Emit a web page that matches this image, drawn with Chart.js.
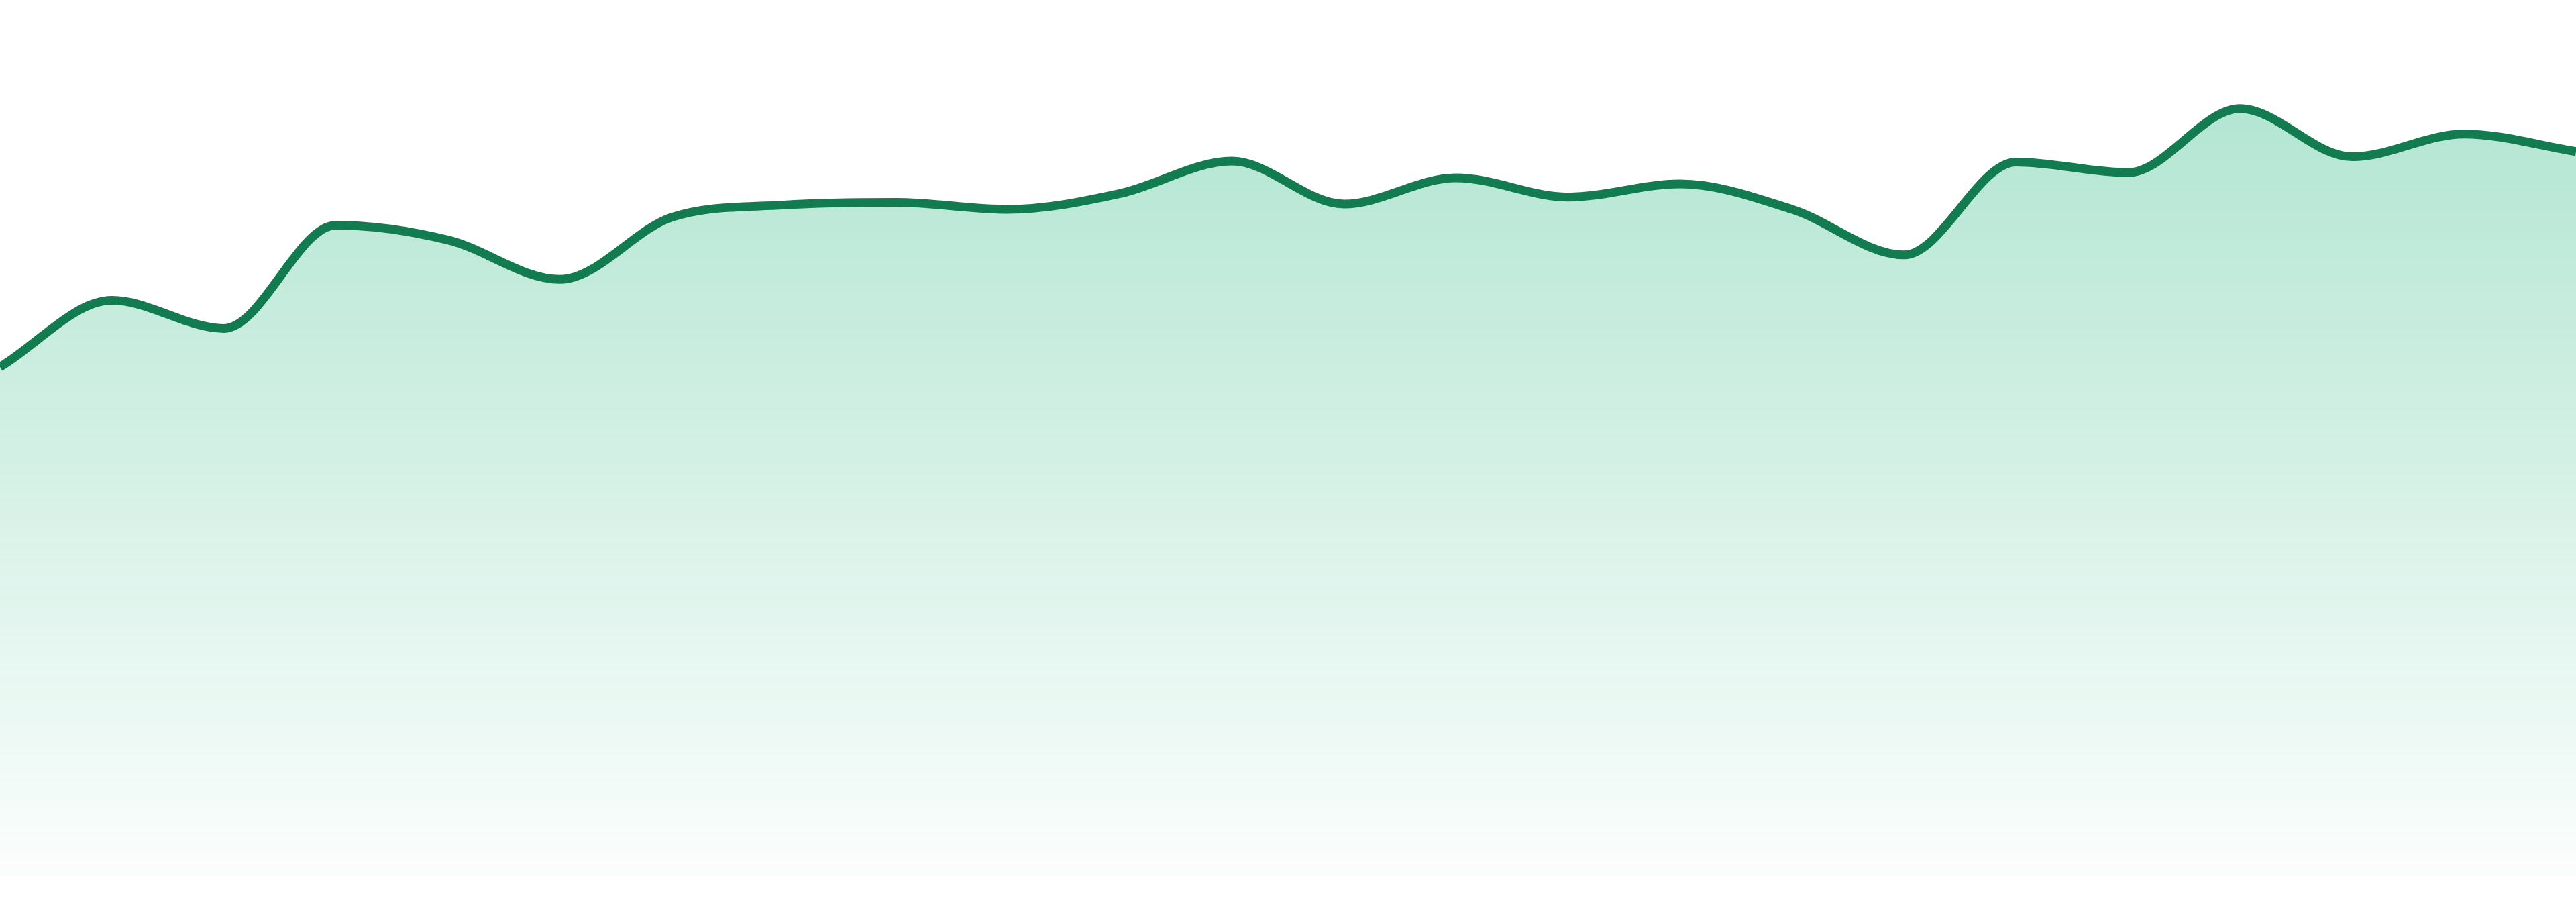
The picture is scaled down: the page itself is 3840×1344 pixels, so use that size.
<!DOCTYPE html>
<html>
<head>
<meta charset="utf-8">
<title>Area trend</title>
<script src="https://cdn.jsdelivr.net/npm/chart.js@4/dist/chart.umd.min.js"></script>
<style>
    html, body { margin: 0; padding: 0; background: #ffffff; }
    #wrap { width: 3840px; height: 1344px; position: relative; }
</style>
</head>
<body>
<div id="wrap"><canvas id="trendChart"></canvas></div>
<script>
// one value per step (0 = bottom of the fill, 100 = top edge)
const labels = ['1', '2', '3', '4', '5', '6', '7', '8', '9', '10', '11', '12',
    '13', '14', '15', '16', '17', '18', '19', '20', '21', '22', '23', '24'];
const values = [58.1, 65.7, 62.5, 74.3, 72.6, 68.1, 75.2, 76.6, 76.9, 76.1, 77.9, 81.6,
    76.7, 79.7, 77.5, 79.0, 76.1, 70.9, 81.5, 80.3, 87.6, 82.1, 84.7, 82.7];
const yMin = 0;
const yMax = 100;

document.addEventListener('DOMContentLoaded', function () {
    const ctx = document.getElementById('trendChart').getContext('2d');

    function fillGradient(context) {
        const area = context.chart.chartArea;
        if (!area) {
            return 'rgba(40, 183, 128, 0.2)';
        }
        const g = context.chart.ctx.createLinearGradient(0, area.top, 0, area.bottom);
        g.addColorStop(0, 'rgba(40, 183, 128, 0.40)');
        g.addColorStop(1, 'rgba(40, 183, 128, 0.02)');
        return g;
    }

    new Chart(ctx, {
        type: 'line',
        data: {
            labels: labels,
            datasets: [{
                data: values,
                borderColor: '#137b50',
                borderWidth: 13,
                backgroundColor: fillGradient,
                fill: 'start',
                pointRadius: 0,
                pointHoverRadius: 0,
                cubicInterpolationMode: 'monotone'
            }]
        },
        options: {
            responsive: true,
            maintainAspectRatio: false,
            animation: false,
            layout: { padding: { left: 0, right: 0, top: 0, bottom: 39 } },
            plugins: {
                legend: { display: false },
                tooltip: { enabled: false }
            },
            scales: {
                x: { display: false, offset: false },
                y: { display: false, min: yMin, max: yMax }
            }
        }
    });
});
</script>
</body>
</html>
